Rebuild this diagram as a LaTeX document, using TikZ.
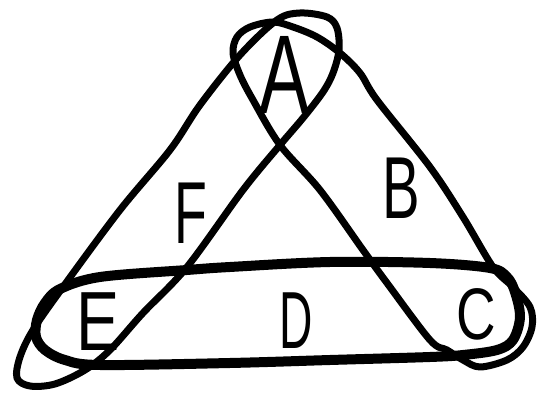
\documentclass[tikz,border=0pt]{standalone}
\usepackage{graphicx}
\usepackage{fontspec}
\setmainfont{Liberation Sans}
\begin{document}
\begin{tikzpicture}[x=1pt,y=-1pt,
  arm/.style={line width=7pt, line join=round},
  band/.style={line width=10pt, line join=round},
  letter/.style={inner sep=0pt, outer sep=0pt, anchor=center}]
\useasboundingbox (0,0) rectangle (539,403);
% left arm: A to E
\draw[arm] plot[smooth cycle, tension=0.55] coordinates {
 (300,13) (327,17) (337,28) (339,50) (333,73) (323,92) (303,118) (280,145)
 (243,190) (187,267) (143,313) (110,350) (85,370) (55,384) (30,386) (17,378)
 (20,357) (33,330) (63,287) (120,210) (170,150) (200,105) (240,55) (277,20)};
% right arm: A to C
\draw[arm] plot[smooth cycle, tension=0.55] coordinates {
 (250,27) (273,22) (293,27) (317,37) (340,53) (360,73) (377,100) (430,167)
 (463,217) (493,267) (513,287) (530,307) (532,327) (523,347) (507,360)
 (480,367) (463,360) (447,350) (430,340) (387,283) (363,250) (320,190)
 (280,145) (253,100) (240,75) (233,53) (237,37)};
% bottom band: E to C
\draw[band] plot[smooth cycle, tension=0.55] coordinates {
 (60,289) (100,277) (187,270) (230,267) (330,262) (430,263) (490,268)
 (507,277) (515,292) (520,317) (513,340) (497,350) (463,355) (430,357)
 (330,360) (230,363) (100,365) (65,360) (45,350) (36,337) (37,320) (45,303)};
% letters
\node[letter] (A) at (285,75) {\fontsize{112}{112}\selectfont\scalebox{0.67}[1]{A}};
\node[letter] (B) at (401,188) {\fontsize{88}{88}\selectfont\scalebox{0.64}[1]{B}};
\node[letter] (C) at (476,314) {\fontsize{73}{73}\selectfont\scalebox{0.75}[1]{C}};
\node[letter] (D) at (296,321) {\fontsize{81}{81}\selectfont\scalebox{0.57}[1]{D}};
\node[letter] (E) at (98,322) {\fontsize{84}{84}\selectfont\scalebox{0.77}[1]{E}};
\node[letter] (F) at (191,213) {\fontsize{88}{88}\selectfont\scalebox{0.61}[1]{F}};
\end{tikzpicture}
\end{document}
